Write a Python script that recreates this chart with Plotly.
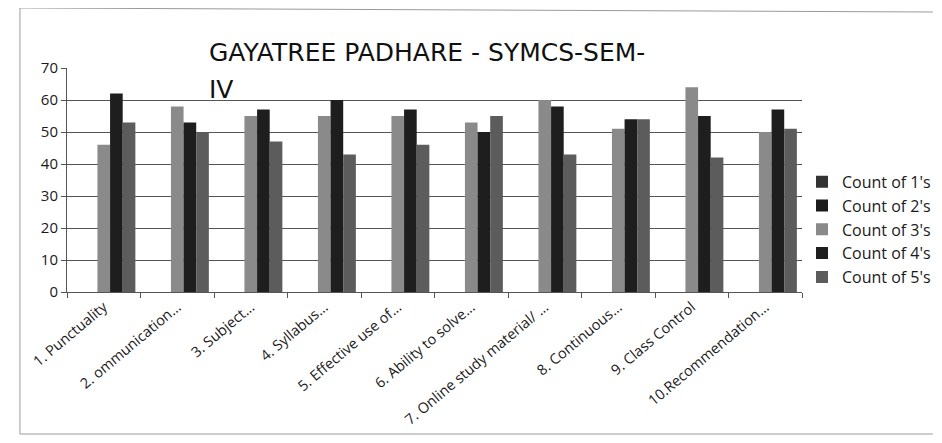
import plotly.graph_objects as go

categories = ["1. Punctuality", "2. ommunication...", "3. Subject...", "4. Syllabus...",
              "5. Effective use of...", "6. Ability to solve...", "7. Online study material/ ...",
              "8. Continuous...", "9. Class Control", "10.Recommendation..."]
series_names = ["Count of 1's", "Count of 2's", "Count of 3's", "Count of 4's", "Count of 5's"]
count_1 = [0, 0, 0, 0, 0, 0, 0, 0, 0, 0]
count_2 = [0, 0, 0, 0, 0, 0, 0, 0, 0, 0]
count_3 = [46, 58, 55, 55, 55, 53, 60, 51, 64, 50]
count_4 = [62, 53, 57, 60, 57, 50, 58, 54, 55, 57]
count_5 = [53, 50, 47, 43, 46, 55, 43, 54, 42, 51]
y_ticks = [0, 10, 20, 30, 40, 50, 60, 70]

colors = ["#333333", "#1c1c1c", "#8a8a8a", "#1e1e1e", "#5c5c5c"]
values = [count_1, count_2, count_3, count_4, count_5]

fig = go.Figure()
for i, (name, vals) in enumerate(zip(series_names, values)):
    fig.add_trace(go.Bar(x=categories, y=vals, name=name, marker_color=colors[i],
                         marker_line_width=0, legendgroup=name))

font_family = "Open Sans, Liberation Sans, Arial, sans-serif"
title_font = "DejaVu Sans, Open Sans, sans-serif"
# the page body keeps its default 8px margin, so the figure is sized to fit inside it
fig.update_layout(
    width=926, height=427,
    margin=dict(l=59, r=132, t=60, b=143, autoexpand=False),
    paper_bgcolor="#ffffff", plot_bgcolor="#ffffff",
    barmode="group", bargap=0.14, bargroupgap=0,
    font=dict(family=font_family, color="#1a1a1a", size=13),
    showlegend=True,
    legend=dict(x=1.0, xanchor="left", y=0.28, yanchor="middle",
                font=dict(size=16, color="#1a1a1a"), tracegroupgap=12,
                traceorder="normal", itemwidth=30, bgcolor="rgba(0,0,0,0)"),
    xaxis=dict(tickangle=-40, showline=True, linecolor="#555555", linewidth=1,
               ticks="outside", tickson="boundaries", ticklen=5, tickcolor="#555555",
               tickfont=dict(size=14.5, color="#1a1a1a"), showgrid=False, automargin=False),
    yaxis=dict(range=[0, 70], tickvals=y_ticks, showline=True, linecolor="#555555",
               ticks="outside", ticklen=5, tickcolor="#555555", showgrid=True,
               gridcolor="#555555", gridwidth=1, zeroline=False, automargin=False,
               tickfont=dict(size=15, color="#1a1a1a")),
    annotations=[
        dict(text="GAYATREE PADHARE - SYMCS-SEM-", xref="paper", yref="paper",
             x=0.19, y=1.071, xanchor="left", yanchor="middle", showarrow=False,
             font=dict(size=25, color="#111111", family=title_font)),
        dict(text="IV", xref="paper", yref="paper",
             x=0.19, y=0.905, xanchor="left", yanchor="middle", showarrow=False,
             font=dict(size=25, color="#111111", family=title_font)),
    ],
    shapes=[
        dict(type="line", xref="paper", yref="paper", x0=-0.064, x1=1.178, y0=1.268, y1=1.25,
             line=dict(color="#9a9a9a", width=1)),
        dict(type="line", xref="paper", yref="paper", x0=-0.064, x1=-0.064, y0=1.268, y1=-0.634,
             line=dict(color="#9a9a9a", width=1)),
        dict(type="line", xref="paper", yref="paper", x0=-0.064, x1=1.178, y0=-0.634, y1=-0.634,
             line=dict(color="#9a9a9a", width=1)),
    ],
)

fig.write_html("out.html")
